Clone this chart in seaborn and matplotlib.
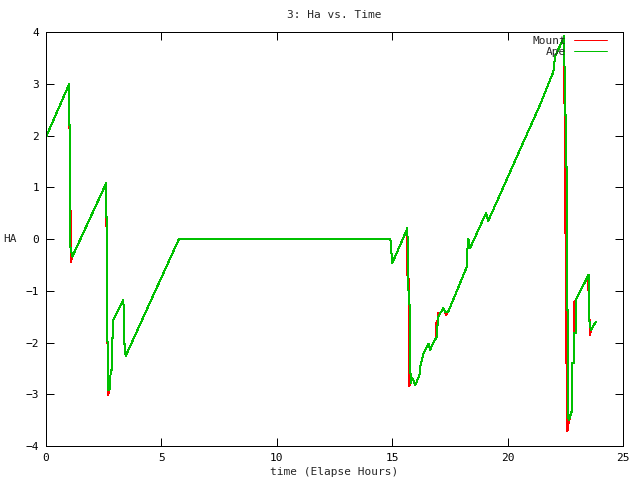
import matplotlib
matplotlib.use("Agg")
import matplotlib.pyplot as plt
import seaborn as sns

# Mount (red) and Ape (green) hour angle vs elapsed hours
mount_time = [0.00, 1.01, 1.01, 1.04, 1.05, 1.07, 1.07, 1.08, 1.14,
              2.61, 2.61, 2.63, 2.64, 2.64, 2.66, 2.66, 2.69, 2.70, 2.74,
              2.78, 2.80, 2.84, 2.86, 2.89, 2.90, 3.35, 3.37, 3.39, 3.45,
              5.76, 14.92, 15.00, 15.66,
              15.64, 15.64, 15.67, 15.71, 15.71, 15.73, 15.73, 15.80, 15.87,
              15.93, 16.00, 16.18, 16.20, 16.28, 16.35, 16.57, 16.64, 16.85,
              16.91, 16.91, 16.98, 16.98, 17.10, 17.18, 17.21, 17.28, 17.33, 17.43,
              18.23, 18.26, 18.30, 18.37, 19.06, 19.16, 21.40, 21.98, 22.05, 22.46,
              22.46, 22.50, 22.50, 22.54, 22.54, 22.59, 22.59, 22.62, 22.79, 22.79,
              22.86, 22.86, 22.95, 23.50, 23.50, 23.54, 23.54, 23.57, 23.57, 23.61, 23.82]
mount_ha = [1.97, 3.00, 2.14, 2.14, 0.69, 0.43, -0.15, -0.44, -0.34,
            1.08, 0.43, 0.08, 0.08, -0.82, -0.82, -1.98, -2.21, -3.01, -2.92,
            -2.85, -2.53, -2.53, -1.92, -1.92, -1.57, -1.18, -1.44, -1.98, -2.26,
            0.00, 0.00, -0.47, 0.21,
            0.21, -0.54, -0.76, -0.76, -2.08, -2.08, -2.85, -2.79, -2.69,
            -2.75, -2.82, -2.63, -2.50, -2.34, -2.21, -2.02, -2.14, -1.95,
            -1.89, -1.62, -1.55, -1.42, -1.42, -1.37, -1.33, -1.40, -1.47, -1.40,
            -0.54, -0.18, 0.00, -0.18, 0.50, 0.35, 2.59, 3.23, 3.52, 3.92,
            2.65, 2.40, 0.11, 0.11, -2.40, -2.40, -3.72, -3.60, -3.30, -2.40,
            -2.40, -1.24, -1.18, -0.70, -0.99, -1.10, -1.57, -1.57, -1.86, -1.76, -1.60]

ape_time = [0.00, 1.01, 1.01, 1.05, 1.05, 1.11, 1.14,
            2.61, 2.61, 2.64, 2.64, 2.67, 2.67, 2.70, 2.74,
            2.78, 2.80, 2.84, 2.86, 2.89, 2.90, 3.35, 3.37, 3.39, 3.45,
            5.76, 14.92, 15.00, 15.66,
            15.67, 15.78, 15.78, 15.80, 15.87,
            15.93, 16.00, 16.18, 16.20, 16.28, 16.35, 16.57, 16.64, 16.85,
            16.93, 16.93, 17.00, 17.00, 17.10, 17.18, 17.21, 17.28, 17.33, 17.43,
            18.23, 18.26, 18.30, 18.37, 19.06, 19.16, 21.40, 21.98, 22.05, 22.46,
            22.47, 22.52, 22.52, 22.56, 22.56, 22.63, 22.63, 22.65, 22.80, 22.80,
            22.88, 22.88, 22.95, 22.95, 23.50, 23.54, 23.54, 23.61, 23.82]
ape_ha = [1.97, 3.00, 2.20, 2.20, -0.15, -0.27, -0.34,
          1.08, 0.43, 0.43, -1.98, -1.98, -2.85, -2.92, -2.92,
          -2.85, -2.53, -2.53, -1.92, -1.92, -1.57, -1.18, -1.44, -1.98, -2.26,
          0.00, 0.00, -0.47, 0.21,
          -0.76, -1.47, -2.34, -2.79, -2.69,
          -2.75, -2.82, -2.63, -2.50, -2.34, -2.21, -2.02, -2.14, -1.95,
          -1.89, -1.70, -1.63, -1.50, -1.42, -1.37, -1.33, -1.40, -1.42, -1.40,
          -0.54, -0.18, 0.00, -0.18, 0.50, 0.35, 2.59, 3.23, 3.52, 3.92,
          2.40, 2.40, 1.40, 1.40, -1.37, -1.37, -3.46, -3.50, -3.30, -2.40,
          -2.40, -1.82, -1.82, -1.18, -0.70, -0.70, -1.57, -1.76, -1.60]

x_ticks = [0, 5, 10, 15, 20, 25]
y_ticks = [-4, -3, -2, -1, 0, 1, 2, 3, 4]

sns.set_style("ticks")
plt.rcParams['font.family'] = ['DejaVu Sans Mono']

fig = plt.figure(figsize=(6.4, 4.8), dpi=100)
ax = fig.add_axes([0.0719, 0.0708, 0.9016, 0.8625])

sns.lineplot(x=mount_time, y=mount_ha, sort=False, estimator=None,
             color="#ff0000", lw=0.72, label="Mount", ax=ax, antialiased=False)
sns.lineplot(x=ape_time, y=ape_ha, sort=False, estimator=None,
             color="#00c000", lw=0.72, label="Ape", ax=ax, antialiased=False)

ax.set_xlim(0, 25)
ax.set_ylim(-4, 4)
ax.set_xticks(x_ticks)
ax.set_yticks(y_ticks)
ax.tick_params(direction="in", length=6, width=0.72, top=True, right=True,
               labelsize=8, pad=5, colors="black")
for s in ax.spines.values():
    s.set_linewidth(0.72)
    s.set_color("black")

ax.set_title("3: Ha vs. Time", fontsize=8, pad=10)
ax.set_xlabel("time (Elapse Hours)", fontsize=8, labelpad=3)
ax.set_ylabel("HA", rotation=0, fontsize=8)
ax.yaxis.set_label_coords(-0.062, 0.488)

ax.legend(loc="upper right", bbox_to_anchor=(0.972, 0.99), markerfirst=False,
          frameon=False, fontsize=8, handlelength=3.0, handletextpad=0.7,
          borderaxespad=0, borderpad=0, labelspacing=0.1)

fig.savefig("out.png", dpi=100)
